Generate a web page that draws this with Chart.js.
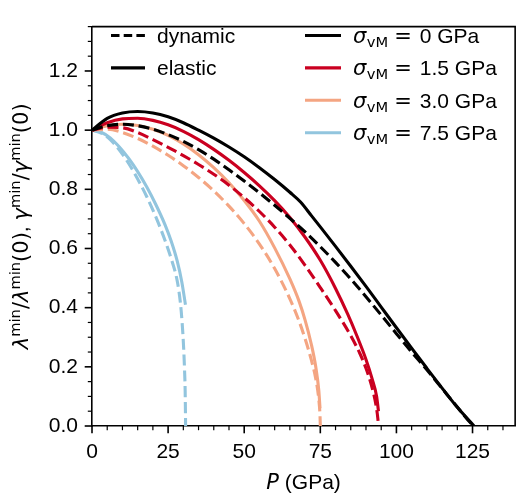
<!DOCTYPE html>
<html lang="en">
  <head>
    <meta charset="utf-8" />
    <script src="https://cdn.jsdelivr.net/npm/chart.js"></script>
    <style>
      html,
      body {
        margin: 0;
        padding: 0;
        background: #fff;
      }
    </style>
    <title>lambda min vs pressure</title>
  </head>

  <body>
    <canvas id="myChart" width="517" height="493"></canvas>

    <script>
      // --- data ---
      // sigma_vM = 0 GPa
      const elastic0P = [0, 5, 10, 15, 20, 25, 30, 35, 40, 45, 50, 55, 60, 65, 68.5, 72, 75, 80, 85, 90, 95, 100, 105, 110, 115, 120, 125.5];
      const elastic0Y = [1.0, 1.04, 1.058, 1.063, 1.058, 1.045, 1.025, 1.0, 0.973, 0.943, 0.91, 0.873, 0.833, 0.79, 0.757, 0.712, 0.673, 0.607, 0.54, 0.472, 0.402, 0.332, 0.263, 0.195, 0.128, 0.063, 0.0];
      const dynamic0P = [0, 5, 10, 15, 20, 25, 30, 35, 40, 45, 50, 55, 60, 65, 70, 75, 80, 85, 90, 95, 100, 105, 110, 115, 120, 125, 125.6];
      const dynamic0Y = [1.0, 1.015, 1.02, 1.015, 1.003, 0.985, 0.962, 0.934, 0.902, 0.866, 0.828, 0.788, 0.746, 0.702, 0.656, 0.606, 0.553, 0.497, 0.437, 0.375, 0.312, 0.25, 0.19, 0.127, 0.064, 0.004, 0.0];

      // sigma_vM = 1.5 GPa
      const elastic15P = [0, 5, 10, 15, 20, 25, 30, 35, 40, 45, 50, 55, 60, 65, 70, 75, 80, 84, 87, 90, 92, 93.5, 94.1];
      const elastic15Y = [1.0, 1.025, 1.038, 1.04, 1.033, 1.018, 0.996, 0.968, 0.935, 0.898, 0.857, 0.812, 0.762, 0.705, 0.638, 0.56, 0.465, 0.378, 0.305, 0.225, 0.16, 0.1, 0.05];
      const dynamic15P = [0, 5, 10, 15, 20, 25, 30, 35, 40, 45, 50, 55, 60, 65, 70, 75, 80, 85, 88, 90, 92, 93.3, 93.9, 94.1];
      const dynamic15Y = [1.0, 1.01, 1.008, 0.992, 0.968, 0.942, 0.914, 0.884, 0.851, 0.814, 0.772, 0.725, 0.672, 0.612, 0.543, 0.468, 0.39, 0.305, 0.245, 0.195, 0.13, 0.07, 0.025, 0.0];

      // sigma_vM = 3.0 GPa
      const elastic30P = [0, 5, 10, 15, 20, 25, 30, 35, 40, 45, 50, 55, 60, 65, 68, 70, 72, 73.5, 74.5, 74.9];
      const elastic30Y = [1.0, 1.015, 1.02, 1.016, 1.003, 0.982, 0.953, 0.917, 0.873, 0.822, 0.762, 0.692, 0.602, 0.497, 0.422, 0.358, 0.278, 0.2, 0.12, 0.06];
      const dynamic30P = [0, 5, 10, 15, 20, 25, 30, 35, 40, 45, 50, 55, 60, 65, 68, 70, 72, 73.5, 74.5, 74.9, 75];
      const dynamic30Y = [1.0, 1.003, 0.992, 0.972, 0.946, 0.915, 0.88, 0.84, 0.795, 0.743, 0.684, 0.615, 0.532, 0.43, 0.355, 0.295, 0.225, 0.16, 0.09, 0.035, 0.0];

      // sigma_vM = 7.5 GPa
      const elastic75P = [0, 3, 6, 9, 12, 15, 18, 21, 24, 26, 28, 29.5, 30.7];
      const elastic75Y = [1.0, 0.993, 0.974, 0.943, 0.905, 0.86, 0.808, 0.748, 0.68, 0.625, 0.557, 0.487, 0.41];
      const dynamic75P = [0, 3, 6, 9, 12, 15, 18, 21, 24, 26, 28, 29, 29.6, 30.1, 30.4, 30.6, 30.75];
      const dynamic75Y = [1.0, 0.99, 0.968, 0.933, 0.888, 0.835, 0.775, 0.706, 0.627, 0.566, 0.49, 0.42, 0.35, 0.265, 0.19, 0.12, 0.0];

      const sigmaLabels = ["0", "1.5", "3.0", "7.5"];
      const kindLabels = ["dynamic", "elastic"];
      const xTickLabels = ["0", "25", "50", "75", "100", "125"];
      const yTickLabels = ["0.0", "0.2", "0.4", "0.6", "0.8", "1.0", "1.2"];

      // --- style ---
      const colors = ["#000000", "#ca0020", "#f4a582", "#92c5de"];
      const lw = 3.1;
      const dash = [11, 4.8];
      const fs = 21;
      const fontMain = "'Liberation Sans', Arial, sans-serif";
      const fontMath = "'DejaVu Sans', sans-serif";

      Chart.defaults.font.family = fontMain;
      Chart.defaults.font.size = fs;
      Chart.defaults.color = "#000";

      function pts(px, py) {
        return px.map((x, i) => ({ x: x, y: py[i] }));
      }

      function line(px, py, color, dashed) {
        return {
          data: pts(px, py),
          borderColor: color,
          borderWidth: lw,
          borderDash: dashed ? dash : [],
          borderCapStyle: "butt",
          borderJoinStyle: "round",
          pointRadius: 0,
          showLine: true,
          fill: false,
          cubicInterpolationMode: "monotone",
        };
      }

      const datasets = [
        line(elastic0P, elastic0Y, colors[0], false),
        line(dynamic0P, dynamic0Y, colors[0], true),
        line(elastic15P, elastic15Y, colors[1], false),
        line(dynamic15P, dynamic15Y, colors[1], true),
        line(elastic30P, elastic30Y, colors[2], false),
        line(dynamic30P, dynamic30Y, colors[2], true),
        line(elastic75P, elastic75Y, colors[3], false),
        line(dynamic75P, dynamic75Y, colors[3], true),
      ];

      // ticks every 5 GPa / 0.05, labels only on the major ones
      function xLabel(v) {
        const i = xTickLabels.indexOf(String(Math.round(v)));
        return Math.abs(v - Math.round(v)) < 1e-6 && i >= 0 ? xTickLabels[i] : "";
      }
      function yLabel(v) {
        const s = (Math.round(v * 20) / 20).toFixed(2);
        const i = yTickLabels.findIndex((t) => Number(t).toFixed(2) === s);
        return i >= 0 ? yTickLabels[i] : "";
      }

      // spines, outward ticks, legends, axis titles
      const decor = {
        id: "decor",
        afterDraw(chart) {
          const ctx = chart.ctx;
          const a = chart.chartArea;
          const sx = chart.scales.x;
          const sy = chart.scales.y;
          ctx.save();
          ctx.strokeStyle = "#000";
          ctx.lineCap = "butt";

          // top and right spines
          ctx.lineWidth = 1.6;
          ctx.beginPath();
          ctx.moveTo(a.left, a.top);
          ctx.lineTo(a.right, a.top);
          ctx.lineTo(a.right, a.bottom);
          ctx.stroke();

          // ticks
          sx.ticks.forEach((t) => {
            const px = sx.getPixelForValue(t.value);
            const major = t.label !== "";
            ctx.lineWidth = major ? 1.6 : 1.2;
            ctx.beginPath();
            ctx.moveTo(px, a.bottom);
            ctx.lineTo(px, a.bottom + (major ? 7.3 : 4.2));
            ctx.stroke();
          });
          sy.ticks.forEach((t) => {
            const py = sy.getPixelForValue(t.value);
            const major = t.label !== "";
            ctx.lineWidth = major ? 1.6 : 1.2;
            ctx.beginPath();
            ctx.moveTo(a.left, py);
            ctx.lineTo(a.left - (major ? 7.3 : 4.2), py);
            ctx.stroke();
          });

          // legend: dynamic / elastic
          ctx.fillStyle = "#000";
          ctx.textAlign = "left";
          ctx.textBaseline = "alphabetic";
          const rowY = (i) => 35.5 + i * 32.4;
          kindLabels.forEach((lab, i) => {
            ctx.lineWidth = lw;
            ctx.setLineDash(i === 0 ? [8.5, 4.2] : []);
            ctx.beginPath();
            ctx.moveTo(111, rowY(i));
            ctx.lineTo(145, rowY(i));
            ctx.stroke();
            ctx.setLineDash([]);
            ctx.font = `${fs}px ${fontMain}`;
            ctx.fillText(lab, 157, rowY(i) + 7.5);
          });

          // legend: sigma_vM
          sigmaLabels.forEach((val, i) => {
            const y = rowY(i);
            ctx.strokeStyle = colors[i];
            ctx.lineWidth = lw;
            ctx.beginPath();
            ctx.moveTo(305, y);
            ctx.lineTo(341, y);
            ctx.stroke();
            let cx = 353;
            const base = y + 7.5;
            ctx.font = `italic ${fs}px ${fontMath}`;
            ctx.fillText("σ", cx, base);
            cx += ctx.measureText("σ").width + 0.5;
            ctx.font = `${fs * 0.7}px ${fontMath}`;
            ctx.fillText("vM", cx, base + 4);
            cx += ctx.measureText("vM").width + 6;
            ctx.font = `${fs}px ${fontMath}`;
            ctx.fillText("=", cx, base);
            cx += ctx.measureText("=").width + 8;
            ctx.font = `${fs}px ${fontMain}`;
            ctx.fillText(val + " GPa", cx, base);
          });

          // x title
          ctx.font = `italic ${fs}px ${fontMath}`;
          const wP = ctx.measureText("P").width;
          ctx.font = `${fs}px ${fontMain}`;
          const wRest = ctx.measureText(" (GPa)").width;
          let tx = (a.left + a.right) / 2 - (wP + wRest) / 2;
          ctx.font = `italic ${fs}px ${fontMath}`;
          ctx.fillText("P", tx, 489);
          ctx.font = `${fs}px ${fontMain}`;
          ctx.fillText(" (GPa)", tx + wP, 489);

          // y title (rotated, with superscripts)
          const gr = `italic ${fs}px ${fontMath}`;
          const rm = `${fs}px ${fontMath}`;
          const sup = `${fs * 0.7}px ${fontMath}`;
          const segs = [
            ["λ", gr, 0], ["min", sup, -8], ["/", rm, 0], ["λ", gr, 0], ["min", sup, -8], ["(0)", rm, 0],
            [", ", `${fs}px ${fontMain}`, 0],
            ["γ", gr, 0], ["min", sup, -8], ["/", rm, 0], ["γ", gr, 0], ["min", sup, -8], ["(0)", rm, 0],
          ];
          let total = 0;
          segs.forEach((s) => {
            ctx.font = s[1];
            total += ctx.measureText(s[0]).width;
          });
          ctx.translate(28, (a.top + a.bottom) / 2);
          ctx.rotate(-Math.PI / 2);
          let cy = -total / 2;
          segs.forEach((s) => {
            ctx.font = s[1];
            ctx.fillText(s[0], cy, s[2]);
            cy += ctx.measureText(s[0]).width;
          });
          ctx.restore();
        },
      };

      const myChart = new Chart(document.getElementById("myChart"), {
        type: "scatter",
        data: { datasets: datasets },
        plugins: [decor],
        options: {
          responsive: false,
          animation: false,
          events: [],
          layout: { padding: { top: 9, right: 1, left: 0, bottom: 0 } },
          plugins: { legend: { display: false }, tooltip: { enabled: false } },
          scales: {
            x: {
              type: "linear",
              min: 0,
              max: 139,
              afterBuildTicks: (s) => {
                s.ticks = [];
                for (let v = 0; v <= 135; v += 5) s.ticks.push({ value: v });
              },
              afterFit: (s) => {
                s.height = 67;
              },
              grid: { display: false, drawTicks: false },
              border: { display: true, color: "#000", width: 1.6 },
              ticks: { padding: 14, autoSkip: false, maxRotation: 0, callback: xLabel },
            },
            y: {
              type: "linear",
              min: 0,
              max: 1.35,
              afterBuildTicks: (s) => {
                s.ticks = [];
                for (let i = 0; i <= 27; i++) s.ticks.push({ value: i * 0.05 });
              },
              afterFit: (s) => {
                s.width = 92;
              },
              grid: { display: false, drawTicks: false },
              border: { display: true, color: "#000", width: 1.6 },
              ticks: { padding: 14, autoSkip: false, callback: yLabel },
            },
          },
        },
      });
    </script>
  </body>
</html>
